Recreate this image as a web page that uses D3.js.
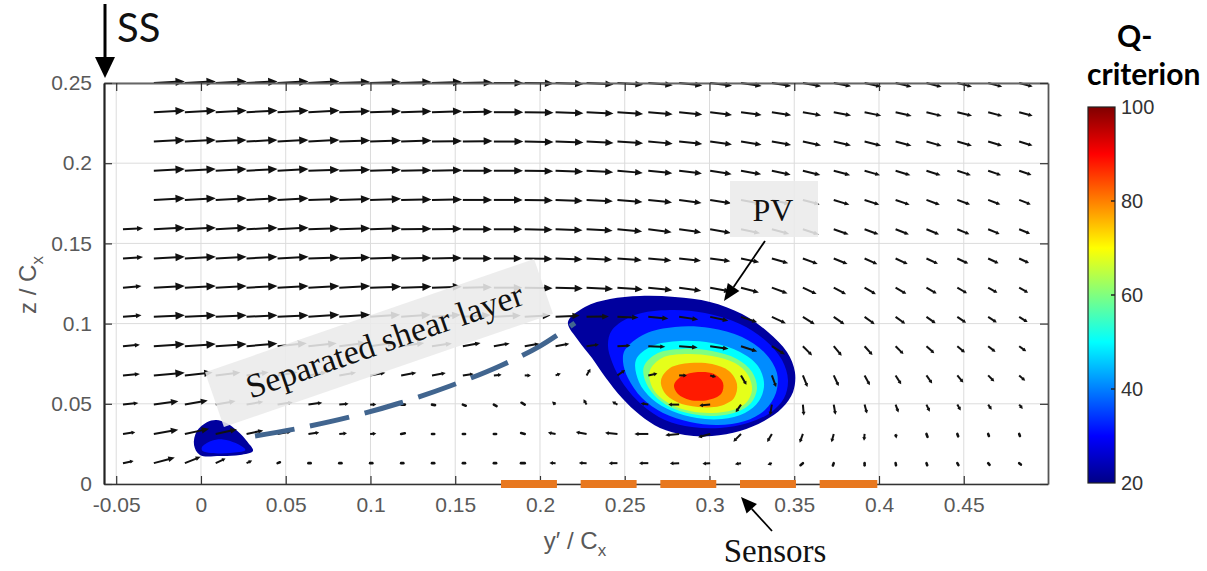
<!DOCTYPE html>
<html><head><meta charset="utf-8">
<script src="https://d3js.org/d3.v7.min.js"></script>
<style>html,body{margin:0;padding:0;background:#fff}svg{display:block}</style>
</head><body>
<svg id="chart" width="1207" height="571"></svg>
<script>
// ---------- tick values / labels ----------
const xTicks = [-0.05,0,0.05,0.1,0.15,0.2,0.25,0.3,0.35,0.4,0.45];
const xTickLabels = ["-0.05","0","0.05","0.1","0.15","0.2","0.25","0.3","0.35","0.4","0.45"];
const yTicks = [0,0.05,0.1,0.15,0.2,0.25];
const yTickLabels = ["0","0.05","0.1","0.15","0.2","0.25"];
const cbTicks = [20,40,60,80,100];
const cbTickLabels = ["20","40","60","80","100"];

// ---------- PIV grid (y'/Cx columns, z/Cx rows) ----------
const gridX = [-0.0460,-0.0278,-0.0095,0.0087,0.0269,0.0452,0.0634,0.0816,0.0998,0.1181,0.1363,0.1545,0.1728,0.1910,0.2092,0.2275,0.2457,0.2639,0.2821,0.3004,0.3186,0.3368,0.3551,0.3733,0.3915,0.4098,0.4280,0.4462,0.4644,0.4827];
const gridZ = [0.0130,0.0312,0.0495,0.0677,0.0859,0.1042,0.1224,0.1406,0.1588,0.1771,0.1953,0.2135,0.2318,0.2500];

// velocity magnitude (normalised) per row, bottom row first
const magRows = [
 [.35,.7,.55,.35,.2,.08,.05,.05,.05,.05,.05,.05,.05,.12,.2,.25,.28,.3,.3,.25,.2,.15,.1,.08,.07,.07,.07,.07,.07,.07],
 [.4,.8,.8,.7,.55,.45,.35,.25,.2,.12,.07,.06,.06,.12,.25,.35,.4,.45,.45,.4,.35,.3,.3,.28,.22,.15,.1,.08,.07,.06],
 [.5,.8,.75,.65,.55,.5,.45,.3,.2,.12,.1,.1,.1,.12,.15,.2,.2,.25,.35,.35,.3,.35,.35,.33,.3,.27,.25,.22,.2,.18],
 [.55,1,.9,.8,.72,.65,.6,.55,.5,.5,.45,.35,.25,.2,.18,.25,.3,.3,.25,.2,.35,.4,.4,.38,.36,.34,.32,.3,.28,.26],
 [.55,1,1,1,1,.95,.92,.88,.82,.75,.65,.58,.52,.48,.45,.4,.42,.55,.6,.6,.55,.5,.42,.4,.38,.36,.34,.32,.3,.28],
 [.6,1,1,1,1,1,1,1,.97,.95,.93,.9,.87,.83,.78,.72,.68,.65,.62,.6,.55,.5,.45,.42,.4,.38,.36,.34,.33,.32],
 [.6,1,1,1,1,1,1,1,1,.98,.96,.94,.92,.9,.88,.86,.82,.78,.72,.66,.6,.54,.49,.45,.42,.4,.38,.36,.34,.33],
 [.65,1,1,1,1,1,1,1,1,.98,.96,.94,.92,.9,.87,.83,.79,.75,.71,.66,.6,.55,.51,.48,.45,.43,.41,.39,.37,.35],
 [.65,1,1,1,1,1,1,1,1,.98,.96,.94,.92,.9,.87,.84,.8,.76,.72,.68,.63,.58,.54,.51,.48,.46,.44,.42,.4,.38],
 [null,1,1,1,1,1,1,1,1,.98,.97,.95,.93,.91,.88,.85,.81,.77,.73,.69,.65,.6,.56,.53,.5,.48,.46,.44,.42,.4],
 [null,1,1,1,1,1,1,1,1,.98,.97,.96,.94,.92,.89,.86,.82,.78,.74,.7,.66,.62,.58,.55,.52,.5,.48,.46,.44,.42],
 [null,1,1,1,1,1,1,1,1,.98,.97,.96,.95,.93,.9,.87,.83,.79,.75,.71,.67,.63,.6,.57,.55,.53,.51,.49,.47,.45],
 [null,1,1,1,1,1,1,1,1,.98,.97,.96,.95,.93,.9,.87,.83,.79,.75,.71,.67,.63,.6,.57,.55,.53,.51,.49,.47,.45],
 [null,1,1,1,1,1,1,1,1,.98,.97,.96,.95,.93,.9,.87,.83,.79,.75,.71,.67,.63,.6,.57,.55,.53,.51,.49,.47,.45]
];
// flow direction in degrees (0 = +y', 90 = +z), bottom row first
const angRows = [
 [12,15,22,25,25,20,0,0,0,0,0,0,0,180,178,178,180,180,182,185,190,200,220,250,270,-80,-70,-60,-50,-40],
 [8,10,12,12,12,10,8,5,5,10,0,0,0,165,170,170,175,180,185,195,225,240,250,255,265,-80,-70,-70,-70,-70],
 [6,8,10,10,10,9,8,5,0,0,-10,-20,-30,150,140,120,150,170,180,185,235,260,-85,-80,-75,-70,-65,-60,-55,-50],
 [5,5,6,7,8,9,10,10,10,10,10,8,5,0,20,60,35,12,0,-15,-60,-70,-68,-65,-62,-58,-55,-50,-45,-42],
 [5,4,4,4,5,6,6,7,8,8,8,10,10,10,10,8,3,-2,-4,-8,-18,-32,-45,-50,-48,-45,-42,-40,-38,-36],
 [5,3,3,3,3,3,4,4,4,4,4,4,3,3,3,1,-2,-5,-8,-12,-18,-25,-32,-35,-36,-36,-35,-34,-33,-32],
 [5,3,3,3,3,3,3,3,2,2,2,1,0,-1,-2,-3,-4,-6,-8,-11,-15,-20,-25,-28,-30,-30,-30,-30,-29,-29],
 [4,3,3,3,3,3,2,2,2,1,1,0,0,-1,-2,-3,-4,-5,-6,-8,-12,-16,-20,-22,-24,-25,-25,-25,-25,-25],
 [3,3,3,3,3,3,2,2,2,1,1,0,0,-1,-2,-3,-5,-7,-8,-10,-12,-15,-18,-19,-20,-21,-22,-22,-22,-22],
 [null,3,3,3,3,3,2,2,2,1,1,0,0,-1,-2,-3,-5,-6,-8,-9,-11,-13,-15,-17,-18,-19,-20,-20,-21,-21],
 [null,3,3,3,3,3,2,2,2,1,1,0,0,-1,-2,-3,-5,-6,-7,-9,-10,-12,-14,-15,-16,-17,-18,-18,-19,-19],
 [null,3,3,3,3,3,3,2,2,2,1,1,0,-1,-2,-3,-4,-5,-6,-8,-9,-10,-12,-13,-14,-15,-16,-16,-17,-17],
 [null,3,3,3,3,3,3,2,2,2,2,1,0,-1,-2,-3,-4,-5,-6,-7,-8,-9,-10,-11,-12,-13,-14,-14,-15,-15],
 [null,3,3,3,3,3,3,2,2,2,2,1,0,-1,-2,-3,-4,-5,-6,-7,-8,-9,-10,-11,-12,-13,-14,-14,-15,-15]
];

// ---------- Q-criterion contour levels (outer -> inner) ----------
const vortexLevels = [22,31,41,50,60,68,78,88];
const vortexContours = [
 [[0.2165,0.1010],[0.2265,0.1104],[0.2413,0.1153],[0.2590,0.1172],[0.2796,0.1166],[0.3003,0.1135],[0.3192,0.1060],[0.3345,0.0948],[0.3457,0.0823],[0.3504,0.0698],[0.3493,0.0574],[0.3428,0.0474],[0.3322,0.0393],[0.3180,0.0330],[0.3015,0.0299],[0.2855,0.0305],[0.2708,0.0349],[0.2590,0.0430],[0.2484,0.0536],[0.2389,0.0661],[0.2307,0.0786],[0.2224,0.0898]],
 [[0.2425,0.0960],[0.2560,0.1054],[0.2767,0.1085],[0.2973,0.1066],[0.3180,0.0998],[0.3327,0.0898],[0.3428,0.0773],[0.3463,0.0648],[0.3440,0.0536],[0.3357,0.0443],[0.3227,0.0380],[0.3062,0.0349],[0.2897,0.0355],[0.2737,0.0399],[0.2602,0.0493],[0.2496,0.0617],[0.2425,0.0761],[0.2401,0.0867]],
 [[0.2501,0.0835],[0.2619,0.0935],[0.2796,0.0979],[0.3003,0.0973],[0.3192,0.0916],[0.3327,0.0817],[0.3398,0.0692],[0.3392,0.0567],[0.3327,0.0461],[0.3209,0.0393],[0.3050,0.0368],[0.2885,0.0387],[0.2726,0.0443],[0.2602,0.0536],[0.2519,0.0661],[0.2490,0.0761]],
 [[0.2566,0.0773],[0.2661,0.0860],[0.2826,0.0892],[0.3015,0.0879],[0.3180,0.0823],[0.3286,0.0736],[0.3322,0.0623],[0.3292,0.0517],[0.3209,0.0443],[0.3074,0.0405],[0.2926,0.0411],[0.2779,0.0455],[0.2661,0.0530],[0.2584,0.0636]],
 [[0.2614,0.0736],[0.2696,0.0817],[0.2844,0.0842],[0.3015,0.0829],[0.3162,0.0779],[0.3251,0.0698],[0.3280,0.0599],[0.3245,0.0505],[0.3162,0.0449],[0.3032,0.0424],[0.2897,0.0436],[0.2767,0.0480],[0.2673,0.0555],[0.2619,0.0648]],
 [[0.2649,0.0711],[0.2720,0.0786],[0.2855,0.0810],[0.3015,0.0798],[0.3150,0.0754],[0.3227,0.0680],[0.3251,0.0586],[0.3215,0.0505],[0.3139,0.0461],[0.3015,0.0443],[0.2885,0.0455],[0.2767,0.0499],[0.2684,0.0567],[0.2649,0.0642]],
 [[0.2714,0.0648],[0.2767,0.0723],[0.2885,0.0754],[0.3015,0.0748],[0.3115,0.0704],[0.3162,0.0623],[0.3145,0.0536],[0.3062,0.0486],[0.2932,0.0480],[0.2808,0.0511],[0.2732,0.0574]],
 [[0.2791,0.0617],[0.2838,0.0673],[0.2932,0.0698],[0.3027,0.0686],[0.3080,0.0630],[0.3068,0.0561],[0.2991,0.0524],[0.2885,0.0524],[0.2814,0.0561]]
];
const blobLevels = [22,31];
const blobContours = [
 [[-0.0041,0.0243],[-0.0024,0.0330],[0.0035,0.0385],[0.0090,0.0399],[0.0150,0.0380],[0.0215,0.0330],[0.0275,0.0262],[0.0307,0.0206],[0.0230,0.0181],[0.0112,0.0175],[-0.0006,0.0181]],
 [[0.0005,0.0228],[0.0060,0.0268],[0.0130,0.0278],[0.0205,0.0255],[0.0262,0.0212],[0.0171,0.0193],[0.0060,0.0193],[0.0010,0.0205]]
];

// ---------- annotations in data units ----------
const shearLayer = [[0.0319,0.0299],[0.0584,0.0349],[0.0879,0.0418],[0.1174,0.0505],[0.1469,0.0611],[0.1764,0.0736],[0.2000,0.0860],[0.2206,0.1004]];
const sensorStart = [0.177,0.224,0.271,0.318,0.365];
const sensorEnd   = [0.210,0.257,0.304,0.351,0.399];

// ---------- scales ----------
const svg = d3.select("#chart");
const x = d3.scaleLinear().domain([-0.0572,0.4997]).range([104,1048]);
const y = d3.scaleLinear().domain([0,0.25]).range([484,83]);
const lenScale = d3.scaleLinear().domain([0,1]).range([0,31]);
const cy = d3.scaleLinear().domain([20,100]).range([483,107]);
const jetStops = [0,0.125,0.375,0.625,0.875,1];
const jetCols = ["#000086","#0000ff","#00ffff","#ffff00","#ff0000","#800000"];
const jet = d3.scaleLinear().domain(jetStops).range(jetCols);
const qColor = d3.scaleLinear().domain([20,100]).range([0,1]);
const colorOf = v => jet(qColor(v));

svg.append("rect").attr("width",1207).attr("height",571).attr("fill","#fff");

// ---------- grid ----------
const grid = svg.append("g").attr("stroke","#dcdcdc").attr("stroke-width",1);
grid.selectAll(".gx").data(xTicks).join("line")
  .attr("x1",d=>x(d)).attr("x2",d=>x(d)).attr("y1",y(0.25)).attr("y2",y(0));
grid.selectAll(".gy").data(yTicks).join("line")
  .attr("y1",d=>y(d)).attr("y2",d=>y(d)).attr("x1",x.range()[0]).attr("x2",x.range()[1]);

// ---------- contours ----------
const cline = d3.line().x(d=>x(d[0])).y(d=>y(d[1])).curve(d3.curveCatmullRomClosed.alpha(0.5));
const cg = svg.append("g");
cg.selectAll(".v").data(vortexContours).join("path")
  .attr("d",cline).attr("fill",(d,i)=>colorOf(vortexLevels[i]));
cg.selectAll(".b").data(blobContours).join("path")
  .attr("d",cline).attr("fill",(d,i)=>colorOf(blobLevels[i]));

// ---------- quiver ----------
const arrows = [];
gridZ.forEach((zv,k)=>gridX.forEach((xv,j)=>{
  const m = magRows[k][j];
  if (m==null) return;
  const a = angRows[k][j]*Math.PI/180;
  arrows.push({x:xv, z:zv, u:m*Math.cos(a), v:m*Math.sin(a)});
}));
const qg = svg.append("g").attr("fill","#111").attr("stroke","#111");
arrows.forEach(d=>{
  const x0=x(d.x), y0=y(d.z);
  const mag = Math.hypot(d.u,d.v);
  const L = lenScale(mag);
  const ux = d.u/mag, uy = -d.v/mag;
  if (L<4){
    const l = Math.max(L,2.2);
    qg.append("line").attr("x1",x0).attr("y1",y0).attr("x2",x0+ux*l).attr("y2",y0+uy*l)
      .attr("stroke-width",2.6).attr("stroke-linecap","round");
    return;
  }
  const x1=x0+ux*L, y1=y0+uy*L;
  const hl=Math.max(3.5,0.3*L), hw=Math.max(2,0.13*L);
  const bx=x1-ux*hl, by=y1-uy*hl;
  qg.append("line").attr("x1",x0).attr("y1",y0).attr("x2",bx+ux*1).attr("y2",by+uy*1).attr("stroke-width",2);
  qg.append("path").attr("stroke","none")
    .attr("d",`M${x1},${y1}L${bx-uy*hw},${by+ux*hw}L${bx+uy*hw},${by-ux*hw}Z`);
});

// ---------- annotation boxes ----------
const serif = "'Liberation Serif','Times New Roman',serif";
const sg = svg.append("g").attr("transform","translate(379,343) rotate(-19)");
sg.append("rect").attr("x",-174).attr("y",-29).attr("width",348).attr("height",58)
  .attr("fill","#ebebeb").attr("opacity",0.88);
sg.append("text").attr("x",6).attr("y",11).attr("text-anchor","middle")
  .attr("font-family",serif).attr("font-size",34).attr("fill","#111").text("Separated shear layer");

svg.append("rect").attr("x",730).attr("y",181).attr("width",88).attr("height",56)
  .attr("fill","#ebebeb").attr("opacity",0.88);
svg.append("text").attr("x",773).attr("y",221).attr("text-anchor","middle")
  .attr("font-family",serif).attr("font-size",32).attr("fill","#111").text("PV");

// ---------- shear layer dashed line ----------
svg.append("path").datum(shearLayer)
  .attr("d",d3.line().x(d=>x(d[0])).y(d=>y(d[1])).curve(d3.curveCatmullRom))
  .attr("fill","none").attr("stroke","#41658f").attr("stroke-width",5)
  .attr("stroke-dasharray","40,16");

// ---------- axes ----------
const sans = "'Liberation Sans',Arial,Helvetica,sans-serif";
function styleAxis(g){
  g.select(".domain").attr("stroke","#333").attr("stroke-width",1.6);
  g.selectAll(".tick line").attr("stroke","#333").attr("stroke-width",1.2);
  g.selectAll(".tick text").attr("font-family",sans).attr("font-size",21).attr("fill","#595959");
}
svg.append("g").attr("transform",`translate(0,${y(0)})`)
  .call(d3.axisBottom(x).tickValues(xTicks).tickFormat((d,i)=>xTickLabels[i]).tickSizeInner(-8).tickSizeOuter(0).tickPadding(13))
  .call(styleAxis);
svg.append("g").attr("transform",`translate(0,${y(0.25)})`)
  .call(d3.axisTop(x).tickValues(xTicks).tickFormat("").tickSizeInner(-8).tickSizeOuter(0))
  .call(styleAxis).call(g=>g.select(".domain").attr("stroke","#666").attr("stroke-width",2));
svg.append("g").attr("transform",`translate(${x.range()[0]},0)`)
  .call(d3.axisLeft(y).tickValues(yTicks).tickFormat((d,i)=>yTickLabels[i]).tickSizeInner(-8).tickSizeOuter(0).tickPadding(12))
  .call(styleAxis).call(g=>g.select(".domain").attr("stroke","#222").attr("stroke-width",2.2));
svg.append("g").attr("transform",`translate(${x.range()[1]},0)`)
  .call(d3.axisRight(y).tickValues(yTicks).tickFormat("").tickSizeInner(-8).tickSizeOuter(0))
  .call(styleAxis).call(g=>g.select(".domain").attr("stroke","#555").attr("stroke-width",1.8));

// axis titles
const xt = svg.append("text").attr("x",575).attr("y",549).attr("text-anchor","middle")
  .attr("font-family",sans).attr("font-size",24).attr("fill","#595959");
xt.append("tspan").text("y\u2032 / C");
xt.append("tspan").attr("dy",7).attr("font-size",17).text("x");
const yt = svg.append("text").attr("transform","translate(36,285) rotate(-90)").attr("text-anchor","middle")
  .attr("font-family",sans).attr("font-size",24).attr("fill","#595959");
yt.append("tspan").text("z / C");
yt.append("tspan").attr("dy",7).attr("font-size",17).text("x");

// ---------- sensors ----------
svg.append("g").selectAll("rect").data(sensorStart).join("rect")
  .attr("x",d=>x(d)).attr("width",(d,i)=>x(sensorEnd[i])-x(d))
  .attr("y",y(0)-4).attr("height",8).attr("fill","#e8781f");

// ---------- arrows ----------
function arrow(x0,y0,x1,y1,hl,hw,w){
  const L=Math.hypot(x1-x0,y1-y0), ux=(x1-x0)/L, uy=(y1-y0)/L;
  const bx=x1-ux*hl, by=y1-uy*hl;
  svg.append("line").attr("x1",x0).attr("y1",y0).attr("x2",bx).attr("y2",by).attr("stroke","#000").attr("stroke-width",w);
  svg.append("path").attr("fill","#000")
    .attr("d",`M${x1},${y1}L${bx-uy*hw},${by+ux*hw}L${bx+uy*hw},${by-ux*hw}Z`);
}
arrow(765,241,724,301,17,7,1.8);
arrow(772,531,741,497,16,7,1.8);
arrow(105,4,105,78,21,10,3);

svg.append("text").attr("x",775).attr("y",562).attr("text-anchor","middle")
  .attr("font-family",serif).attr("font-size",33).attr("fill","#111").text("Sensors");
svg.append("text").attr("x",117).attr("y",42)
  .attr("font-family","Lato,'Open Sans',sans-serif").attr("font-size",40).attr("fill","#111").text("SS");

// ---------- colorbar ----------
const defs = svg.append("defs");
const grad = defs.append("linearGradient").attr("id","jet").attr("x1",0).attr("y1",1).attr("x2",0).attr("y2",0);
grad.selectAll("stop").data(jetStops).join("stop")
  .attr("offset",d=>d).attr("stop-color",(d,i)=>jetCols[i]);
svg.append("rect").attr("x",1088).attr("y",cy(100)).attr("width",27).attr("height",cy(20)-cy(100))
  .attr("fill","url(#jet)").attr("stroke","#222").attr("stroke-width",1.2);
svg.append("g").selectAll("line").data(cbTicks.slice(1,-1)).join("line")
  .attr("x1",1111).attr("x2",1115).attr("y1",d=>cy(d)).attr("y2",d=>cy(d)).attr("stroke","#222").attr("stroke-width",1.5);
svg.append("g").selectAll("text").data(cbTicks).join("text")
  .attr("x",1121).attr("y",d=>cy(d)).attr("dy","0.36em")
  .attr("font-family",sans).attr("font-size",20).attr("fill","#333").text((d,i)=>cbTickLabels[i]);
svg.append("text").attr("x",1117).attr("y",47).attr("font-family","Lato,sans-serif").attr("font-weight","bold")
  .attr("font-size",30).attr("fill","#000").text("Q-");
svg.append("text").attr("x",1087).attr("y",85).attr("font-family","Lato,sans-serif").attr("font-weight","bold")
  .attr("font-size",30).attr("fill","#000").text("criterion");
</script>
</body></html>
